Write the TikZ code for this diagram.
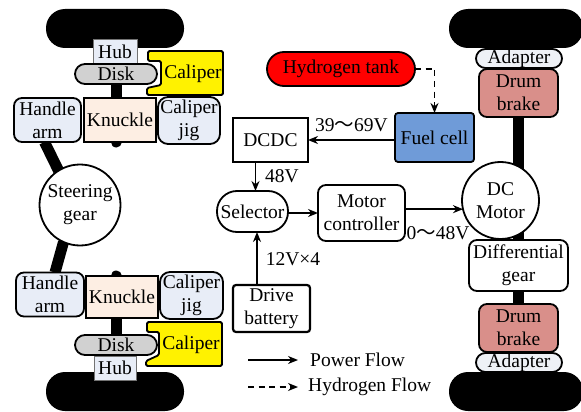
\documentclass[tikz,border=0pt]{standalone}
\usepackage{fontspec}
\setmainfont{Liberation Serif}
\newfontfamily\cjk{Noto Sans CJK SC}
\usetikzlibrary{backgrounds,arrows.meta}
\definecolor{jigblue}{HTML}{E8EDF7}
\definecolor{knucklepink}{HTML}{FDEEE3}
\definecolor{drumred}{HTML}{D98F8A}
\definecolor{cellblue}{HTML}{6F9BD8}
\definecolor{adaptergray}{HTML}{EEF1F6}
\tikzset{
    part/.style={draw,line width=1.8pt,inner sep=0pt,outer sep=0pt,align=center,
        font=\fontsize{19.5}{23}\selectfont},
    wheel/.style={fill=black,inner sep=0pt,outer sep=0pt,minimum width=138pt,minimum height=39pt,rounded corners=19pt},
    rod/.style={line width=11pt,black},
    flow/.style={line width=1.8pt,-{Stealth[length=10pt,width=8pt]}},
    hydrogen/.style={flow,dash pattern=on 6pt off 4.5pt},
    label/.style={inner sep=0pt,font=\fontsize{19.5}{23}\selectfont}
}
\begin{document}
\begin{tikzpicture}[x=1pt,y=-1pt]
    \useasboundingbox (0,0) rectangle (581,412);

    %wheels
    \node[wheel] (wheelTL) at (115,28.5) {};
    \node[wheel] (wheelBL) at (115,391.5) {};
    \node[wheel,minimum width=134pt] (wheelTR) at (516,28.5) {};
    \node[wheel,minimum width=134pt] (wheelBR) at (516,391.5) {};

    %top left corner
    \draw[part,fill=yellow,rounded corners=1.5pt] (148,51) -- (223,51) -- (223,95) -- (147,95) -- (147,88) -- (161,85) -- (161,61) -- (148,61) -- cycle;
    \node[label] (caliperT) at (193,74) {Caliper};
    \node[part,draw=black!55,line width=1pt,fill=jigblue,minimum width=44pt,minimum height=24pt] (hubT) at (115,51.5) {Hub};
    \node[part,fill=black!18,minimum width=82pt,minimum height=20pt,rounded corners=10pt] (diskT) at (116,74) {Disk};
    \node[part,fill=knucklepink,minimum width=72pt,minimum height=44pt] (knuckleT) at (120,120) {Knuckle};
    \node[part,fill=jigblue,minimum width=67pt,minimum height=44pt,rounded corners=8pt] (handleT) at (47.5,120) {Handle\\arm};
    \node[part,fill=jigblue,minimum width=62pt,minimum height=47pt,rounded corners=10pt] (jigT) at (189,120.5) {Caliper\\jig};

    \node[part,fill=white,circle,minimum size=81pt] (steering) at (80,205) {Steering\\gear};

    %bottom left corner
    \draw[part,fill=yellow,rounded corners=1.5pt] (147,322) -- (222,322) -- (222,366) -- (146,366) -- (146,361) -- (159,355) -- (159,332) -- (147,332) -- cycle;
    \node[label] (caliperB) at (191,345) {Caliper};
    \node[part,draw=black!55,line width=1pt,fill=jigblue,minimum width=42pt,minimum height=24pt] (hubB) at (115,368) {Hub};
    \node[part,fill=black!18,minimum width=82pt,minimum height=20pt,rounded corners=10pt] (diskB) at (116,345) {Disk};
    \node[part,fill=knucklepink,minimum width=72pt,minimum height=42pt] (knuckleB) at (122,297) {Knuckle};
    \node[part,fill=jigblue,minimum width=68pt,minimum height=44pt,rounded corners=8pt] (handleB) at (50,294.5) {Handle\\arm};
    \node[part,fill=jigblue,minimum width=63pt,minimum height=47pt,rounded corners=10pt] (jigB) at (191.5,295.5) {Caliper\\jig};

    %power train
    \node[part,fill=red,minimum width=148pt,minimum height=34pt,rounded corners=17pt] (tank) at (341,69) {Hydrogen tank};
    \node[part,fill=cellblue,minimum width=79pt,minimum height=49pt,rounded corners=3pt] (cell) at (434.5,137.5) {Fuel cell};
    \node[part,line width=1.5pt,minimum width=75pt,minimum height=44pt] (dcdc) at (270.5,140) {DCDC};
    \node[part,minimum width=71pt,minimum height=41pt,rounded corners=20pt] (selector) at (252.5,211.5) {Selector};
    \node[part,minimum width=87pt,minimum height=56pt,rounded corners=8pt] (controller) at (361.5,213) {Motor\\controller};
    \node[part,line width=2.2pt,minimum width=77pt,minimum height=47pt,rounded corners=3pt] (battery) at (271.5,308.5) {Drive\\battery};

    %right axle
    \node[part,fill=adaptergray,minimum width=86pt,minimum height=19pt,rounded corners=9.5pt] (adapterT) at (519,58.5) {Adapter};
    \node[part,fill=drumred,minimum width=79pt,minimum height=48pt,rounded corners=8pt] (drumT) at (518.5,93) {Drum\\brake};
    \node[part,fill=white,circle,minimum size=77pt] (motor) at (500.5,200.5) {DC\\Motor};
    \node[part,fill=white,minimum width=99pt,minimum height=51pt,rounded corners=8pt] (differential) at (518.5,265.5) {Differential\\gear};
    \node[part,fill=drumred,minimum width=79pt,minimum height=48pt,rounded corners=8pt] (drumB) at (518.5,328) {Drum\\brake};
    \node[part,fill=adaptergray,minimum width=86pt,minimum height=19pt,rounded corners=9.5pt] (adapterB) at (519,362.5) {Adapter};

    %rods
    \begin{pgfonlayer}{background}
        \draw[rod,line cap=round] (diskT.center) -- (diskT.center |- knuckleT.south);
        \draw[rod,line cap=round] (diskB.center) -- (diskB.center |- knuckleB.north);
        \draw[rod] ([xshift=-3pt]handleT.south) -- (steering.122);
        \draw[rod] ([xshift=5pt]handleB.north) -- (steering.-114);
        \draw[rod] (drumT.south) -- (drumB.north);
    \end{pgfonlayer}

    %flows
    \draw[hydrogen] (tank.east) -| (cell.north);
    \draw[flow] (cell.west |- dcdc.east) -- (dcdc.east);
    \draw[flow] ([xshift=-15pt]dcdc.south) -- ([xshift=-15pt]dcdc.south |- selector.north);
    \draw[flow] (selector.east |- controller.west) -- (controller.west);
    \draw[flow] (controller.east |- motor.193) -- (motor.193);
    \draw[flow] ([xshift=-14.5pt]battery.north) -- ([xshift=-14.5pt]battery.north |- selector.south);

    %voltages
    \node[label] (vcell) at (351.5,125) {39{\cjk ～}69V};
    \node[label] (vdcdc) at (282,176) {48V};
    \node[label] (vbattery) at (293,259) {12V×4};
    \node[label] (vmotor) at (438,233) {0{\cjk ～}48V};

    %legend
    \coordinate (powerA) at (248,360);
    \coordinate (hydrogenA) at (248,387);
    \node[label,anchor=west] (powerL) at (310,360) {Power Flow};
    \node[label,anchor=west] (hydrogenL) at (308,387) {Hydrogen Flow};
    \draw[flow] (powerA) -- ([xshift=-12pt]powerL.west);
    \draw[hydrogen] (hydrogenA) -- ([xshift=-10pt]hydrogenL.west);
\end{tikzpicture}
\end{document}
